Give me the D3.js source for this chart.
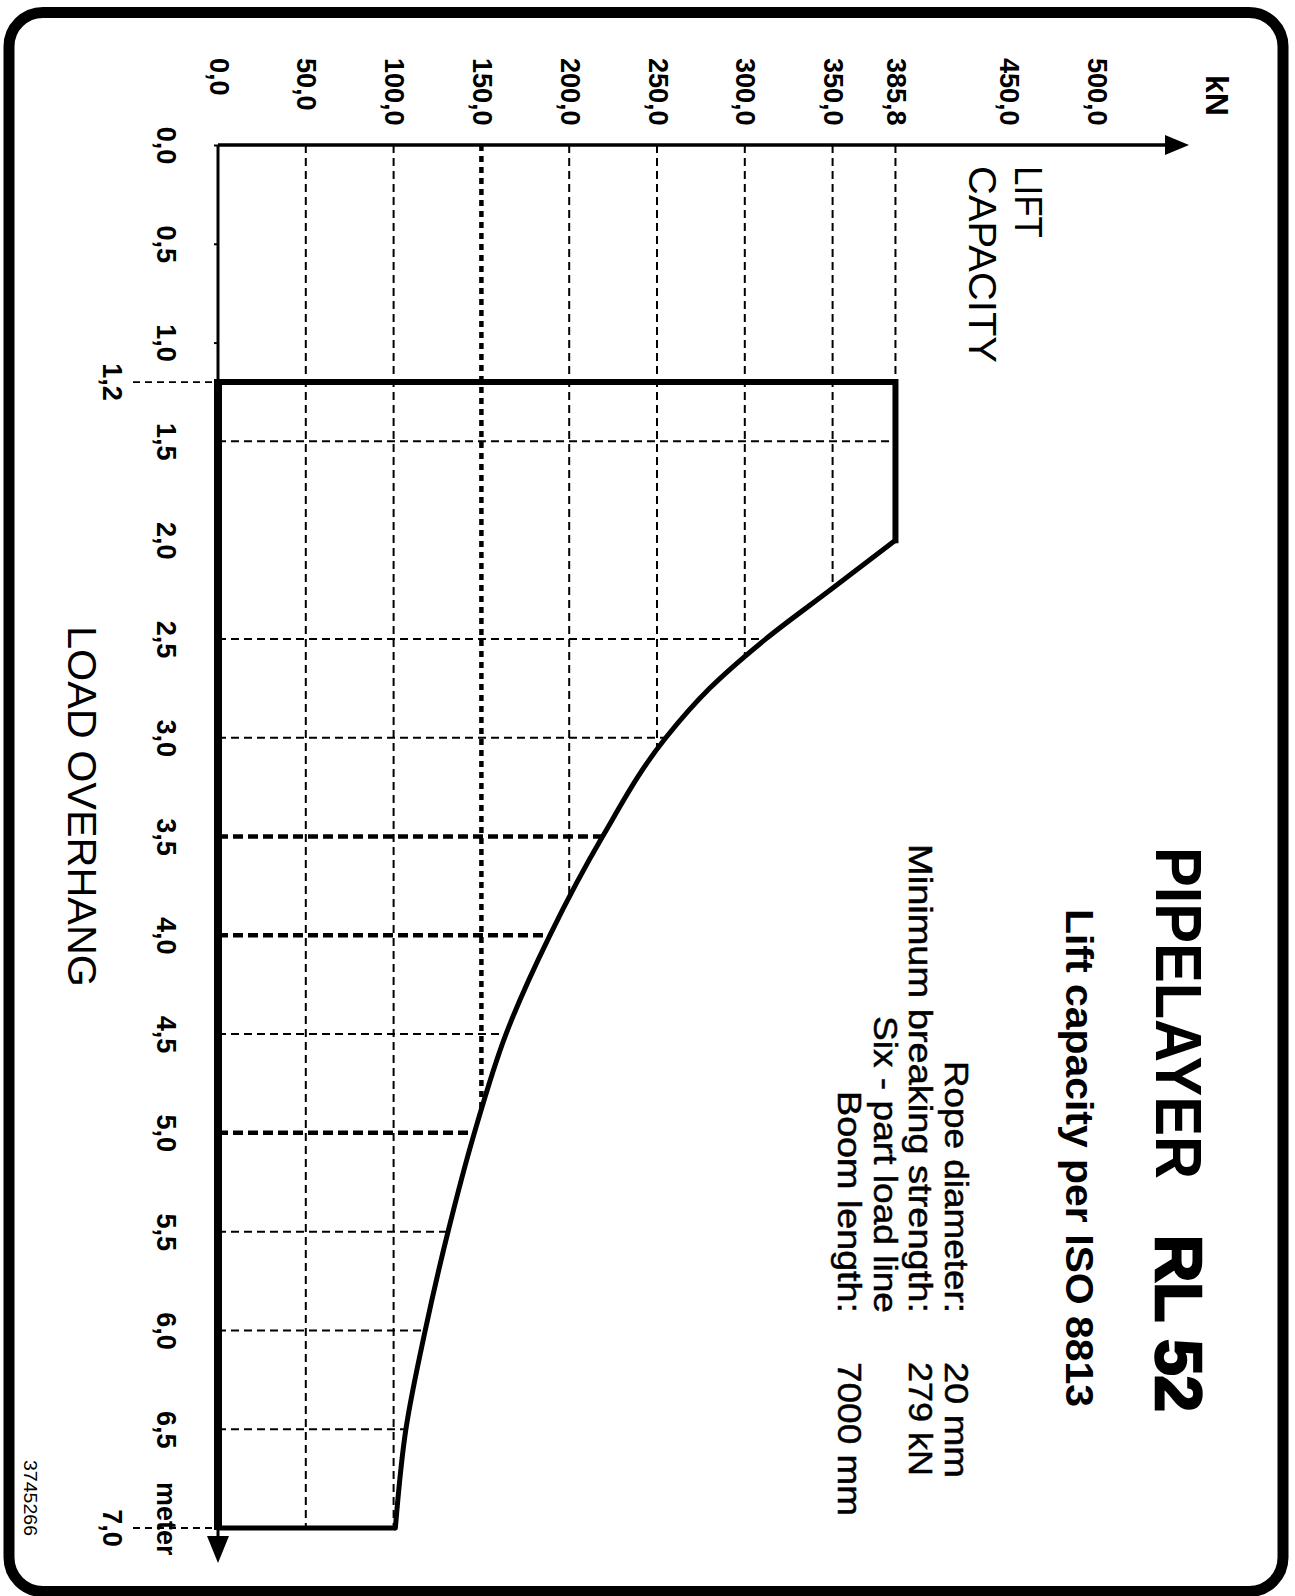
<!DOCTYPE html>
<html><head><meta charset="utf-8">
<script src="https://cdn.jsdelivr.net/npm/d3@7"></script>
<style>html,body{margin:0;padding:0;background:#fff}</style>
</head><body>
<svg id="chart" width="1295" height="1596"></svg>
<script>
// ---- data ----
const capacityTicks = [0, 50, 100, 150, 200, 250, 300, 350, 385.8, 450, 500];
const capacityTickLabels = ["0,0","50,0","100,0","150,0","200,0","250,0","300,0","350,0","385,8","450,0","500,0"];
const capacityGrid = [50, 100, 150, 200, 250, 300, 350, 385.8];
const capacityGridBold = [150];
const overhangTicks = [0, 0.5, 1.0, 1.5, 2.0, 2.5, 3.0, 3.5, 4.0, 4.5, 5.0, 5.5, 6.0, 6.5];
const overhangTickLabels = ["0,0","0,5","1,0","1,5","2,0","2,5","3,0","3,5","4,0","4,5","5,0","5,5","6,0","6,5"];
const overhangGrid = [1.5, 2.5, 3.0, 3.5, 4.0, 4.5, 5.0, 5.5, 6.0, 6.5];
const overhangGridBold = [3.5, 4.0, 5.0];
const limitOverhang = [1.2, 7.0];
const limitLabels = ["1,2", "7,0"];
const maxCapacity = 385.8;
const curveOverhang = [2.0, 2.25, 2.5, 2.75, 3.0, 3.5, 4.0, 4.5, 5.0, 5.5, 6.0, 6.5, 7.0];
const curveCapacity = [385.8, 349, 312, 280, 255, 219, 189, 164, 146, 131, 118, 107, 101];
const specLabels = ["Rope diameter:", "Minimum breaking strength:", "Six - part load line", "Boom length:"];
const specValues = ["20 mm", "279 kN", "", "7000 mm"];

// ---- layout ----
const FONT = "'Liberation Sans', Arial, Helvetica, sans-serif";
const svg = d3.select("#chart");
const x = d3.scaleLinear().domain([0, 500]).range([218, 1096]);
const y = d3.scaleLinear().domain([0, 7]).range([145, 1528]);

// border
svg.append("rect").attr("x", 9).attr("y", 12.5).attr("width", 1274).attr("height", 1579)
  .attr("rx", 34).attr("ry", 34).attr("fill", "none").attr("stroke", "#000").attr("stroke-width", 11);

// helpers
function capAt(o) {
  if (o <= curveOverhang[0]) return maxCapacity;
  for (let i = 0; i < curveOverhang.length - 1; i++) {
    if (o >= curveOverhang[i] && o <= curveOverhang[i + 1]) {
      const t = (o - curveOverhang[i]) / (curveOverhang[i + 1] - curveOverhang[i]);
      return curveCapacity[i] + t * (curveCapacity[i + 1] - curveCapacity[i]);
    }
  }
  return curveCapacity[curveCapacity.length - 1];
}
function overhangAt(v) {
  if (v >= maxCapacity) return limitOverhang[0];
  if (v <= curveCapacity[curveCapacity.length - 1]) return limitOverhang[1];
  for (let i = 0; i < curveCapacity.length - 1; i++) {
    if (v <= curveCapacity[i] && v >= curveCapacity[i + 1]) {
      const t = (curveCapacity[i] - v) / (curveCapacity[i] - curveCapacity[i + 1]);
      return curveOverhang[i] + t * (curveOverhang[i + 1] - curveOverhang[i]);
    }
  }
  return limitOverhang[1];
}

// grid lines
const grid = svg.append("g");
grid.selectAll("line.v").data(capacityGrid).join("line")
  .attr("x1", d => x(d)).attr("x2", d => x(d))
  .attr("y1", y(0)).attr("y2", d => y(overhangAt(d)))
  .attr("stroke", "#000")
  .attr("stroke-width", d => capacityGridBold.includes(d) ? 4.5 : 2)
  .attr("stroke-dasharray", d => capacityGridBold.includes(d) ? "6,5" : "8,5");
grid.selectAll("line.h").data(overhangGrid).join("line")
  .attr("x1", x(0)).attr("x2", d => x(capAt(d)))
  .attr("y1", d => y(d)).attr("y2", d => y(d))
  .attr("stroke", "#000")
  .attr("stroke-width", d => overhangGridBold.includes(d) ? 4.5 : 2)
  .attr("stroke-dasharray", d => overhangGridBold.includes(d) ? "10,5" : "8,5");
grid.selectAll("line.l").data(limitOverhang).join("line")
  .attr("x1", 133).attr("x2", x(0))
  .attr("y1", d => y(d)).attr("y2", d => y(d))
  .attr("stroke", "#000").attr("stroke-width", 1.8).attr("stroke-dasharray", "7,5");

// top axis (capacity)
const topAxis = d3.axisTop(x).tickValues(capacityTicks)
  .tickFormat((d, i) => capacityTickLabels[i]).tickSize(0);
const gTop = svg.append("g").attr("transform", `translate(0,${y(0)})`).call(topAxis);
gTop.select(".domain").remove();
gTop.selectAll("text")
  .attr("x", 0).attr("y", 0).attr("dy", null)
  .attr("transform", `translate(0,${58 - y(0)}) rotate(90)`)
  .attr("text-anchor", "start").attr("dominant-baseline", "central")
  .attr("font-family", FONT).attr("font-weight", "bold").attr("font-size", 27).attr("fill", "#000");
svg.append("line").attr("x1", x(0)).attr("x2", 1170).attr("y1", y(0)).attr("y2", y(0))
  .attr("stroke", "#000").attr("stroke-width", 3.5);
svg.append("path").attr("d", `M1165,${y(0) - 10}L1189,${y(0)}L1165,${y(0) + 10}Z`).attr("fill", "#000");

// left axis (overhang)
const leftAxis = d3.axisLeft(y).tickValues(overhangTicks)
  .tickFormat((d, i) => overhangTickLabels[i]).tickSize(4);
const gLeft = svg.append("g").attr("transform", `translate(${x(0)},0)`).call(leftAxis);
gLeft.select(".domain").remove();
gLeft.selectAll(".tick line").attr("stroke", "#000").attr("stroke-width", 2);
gLeft.selectAll("text")
  .attr("x", 0).attr("y", 0).attr("dy", null)
  .attr("transform", `translate(${166 - x(0)},0) rotate(90)`)
  .attr("text-anchor", "middle").attr("dominant-baseline", "central")
  .attr("font-family", FONT).attr("font-weight", "bold").attr("font-size", 27).attr("fill", "#000");
svg.selectAll("text.lim").data(limitOverhang).join("text").attr("class", "lim")
  .attr("transform", d => `translate(112,${y(d)}) rotate(90)`)
  .attr("text-anchor", "middle").attr("dominant-baseline", "central")
  .attr("font-family", FONT).attr("font-weight", "bold").attr("font-size", 27)
  .text((d, i) => limitLabels[i]);

// axis lines
svg.append("line").attr("x1", x(0)).attr("x2", x(0)).attr("y1", y(0)).attr("y2", y(limitOverhang[0]))
  .attr("stroke", "#000").attr("stroke-width", 3);
svg.append("line").attr("x1", x(0)).attr("x2", x(0)).attr("y1", y(limitOverhang[0]) - 3).attr("y2", y(limitOverhang[1]) + 2)
  .attr("stroke", "#000").attr("stroke-width", 8);
svg.append("line").attr("x1", x(0)).attr("x2", x(0)).attr("y1", y(limitOverhang[1])).attr("y2", 1542)
  .attr("stroke", "#000").attr("stroke-width", 3);
svg.append("path").attr("d", `M${x(0) - 11},1536L${x(0) + 11},1536L${x(0)},1563Z`).attr("fill", "#000");

// load chart outline
const lineXY = d3.line().x(d => x(d[0])).y(d => y(d[1]));
svg.append("path")
  .attr("d", lineXY([[0, limitOverhang[0]], [maxCapacity, limitOverhang[0]], [maxCapacity, curveOverhang[0]]]))
  .attr("fill", "none").attr("stroke", "#000").attr("stroke-width", 6)
  .attr("stroke-linejoin", "miter").attr("stroke-linecap", "square");
const curvePts = curveOverhang.map((o, i) => [curveCapacity[i], o]);
svg.append("path")
  .attr("d", d3.line().x(d => x(d[0])).y(d => y(d[1])).curve(d3.curveMonotoneY)(curvePts))
  .attr("fill", "none").attr("stroke", "#000").attr("stroke-width", 5).attr("stroke-linecap", "round");
svg.append("path")
  .attr("d", lineXY([[curveCapacity[curveCapacity.length - 1], limitOverhang[1]], [0, limitOverhang[1]]]))
  .attr("fill", "none").attr("stroke", "#000").attr("stroke-width", 5);

// rotated text helper
function rtext(cx, sy, str, size, opts = {}) {
  const t = svg.append("text")
    .attr("transform", `translate(${cx},${sy}) rotate(90)`)
    .attr("text-anchor", opts.anchor || "start").attr("dominant-baseline", "central")
    .attr("font-family", FONT).attr("font-size", size)
    .attr("font-weight", opts.weight || "normal").attr("fill", "#000").text(str);
  if (opts.len) t.attr("textLength", opts.len).attr("lengthAdjust", "spacingAndGlyphs");
  if (opts.stroke) t.attr("stroke", "#000").attr("stroke-width", opts.stroke);
  return t;
}

rtext(1217, 75, "kN", 32, {weight: "bold"});
rtext(1028, 166, "LIFT", 38, {len: 72});
rtext(982, 166, "CAPACITY", 38, {len: 197});
rtext(82, 626, "LOAD OVERHANG", 40, {len: 361});
rtext(166, 1482, "meter", 27, {weight: "bold"});
rtext(30, 1460, "3745266", 18, {len: 76});

rtext(1178, 847, "PIPELAYER", 64, {weight: "bold", len: 332});
rtext(1178, 1235, "RL 52", 64, {weight: "bold", len: 177, stroke: 2.5});
rtext(1079, 909, "Lift capacity per ISO 8813", 38, {weight: "bold", len: 498});

const specX = [957, 921, 886, 850];
const specLabelLen = [252, 469, 297, 222];
const specValueLen = [116, 114, 154];
let vi = 0;
specLabels.forEach((s, i) => {
  rtext(specX[i], 1313, s, 34, {anchor: "end", stroke: 0.5, len: specLabelLen[i]});
  if (specValues[i]) { rtext(specX[i], 1362, specValues[i], 34, {stroke: 0.5, len: specValueLen[vi]}); vi++; }
});
</script>
</body></html>
